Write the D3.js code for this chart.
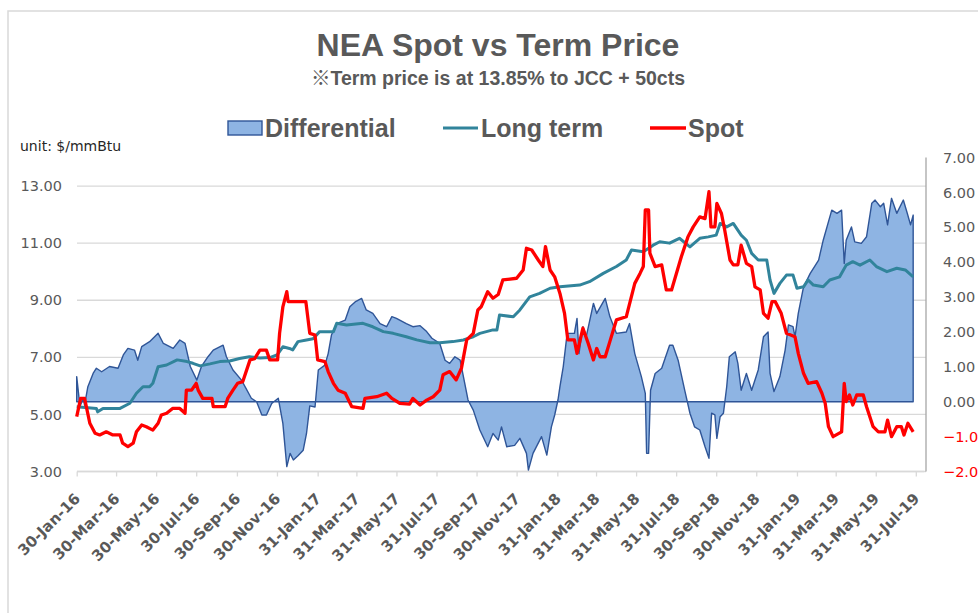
<!DOCTYPE html>
<html lang="en">
<head>
	<title>NEA Spot vs Term Price</title>
	<meta charset="utf-8">
	<style>
		body { margin: 0; background: #fff; }
		#chart text { fill: #595959; }
		.title { font-family: "Liberation Sans", Arial, "Noto Sans CJK JP", sans-serif; font-weight: bold; }
		.axis text { font-family: "DejaVu Sans", Verdana, sans-serif; }
	</style>
</head>
<body>
	<svg id="chart" width="978" height="613"></svg>

	<script src="https://d3js.org/d3.v7.min.js"></script>
	<script>
		"use strict";

		var tickDates = ["2016-01-30","2016-03-30","2016-05-30","2016-07-30","2016-09-30","2016-11-30",
			"2017-01-31","2017-03-31","2017-05-31","2017-07-31","2017-09-30","2017-11-30",
			"2018-01-31","2018-03-31","2018-05-31","2018-07-31","2018-09-30","2018-11-30",
			"2019-01-31","2019-03-31","2019-05-31","2019-07-31"];
		var leftTicks = [3, 5, 7, 9, 11, 13];
		var rightTicks = [-2, -1, 0, 1, 2, 3, 4, 5, 6, 7];

		// Long term ($/mmBtu, left axis)
		var ltDates = ["2016-01-30","2016-02-29","2016-03-02","2016-03-10","2016-04-05","2016-04-20","2016-04-30",
			"2016-05-10","2016-05-20","2016-05-25","2016-06-02","2016-06-15","2016-07-01","2016-07-16","2016-07-25",
			"2016-08-05","2016-08-20","2016-09-04","2016-09-19","2016-10-04","2016-10-19","2016-11-04","2016-11-19",
			"2016-11-30","2016-12-09","2016-12-19","2016-12-24","2017-01-01","2017-01-14","2017-01-24","2017-02-03",
			"2017-02-24","2017-03-01","2017-03-16","2017-04-10","2017-04-25","2017-05-11","2017-05-26","2017-06-15",
			"2017-07-01","2017-07-21","2017-08-05","2017-08-25","2017-09-10","2017-09-25","2017-10-05","2017-10-25",
			"2017-10-31","2017-11-04","2017-11-25","2017-12-05","2017-12-20","2018-01-04","2018-01-20","2018-02-04",
			"2018-03-06","2018-03-21","2018-04-11","2018-05-01","2018-05-16","2018-05-24","2018-06-11","2018-06-26",
			"2018-07-06","2018-07-21","2018-08-05","2018-08-21","2018-09-05","2018-09-18","2018-09-30","2018-10-06",
			"2018-10-16","2018-10-26","2018-11-07","2018-11-15","2018-11-23","2018-12-03","2018-12-16","2018-12-21",
			"2018-12-27","2019-01-05","2019-01-15","2019-01-25","2019-01-31","2019-02-10","2019-02-17","2019-02-25",
			"2019-03-12","2019-03-22","2019-04-06","2019-04-16","2019-04-26","2019-05-07","2019-05-22","2019-06-01",
			"2019-06-17","2019-07-02","2019-07-15","2019-07-27"];
		var ltValues = [5.27,5.21,5.09,5.21,5.21,5.39,5.74,
			5.97,5.97,6.09,6.67,6.73,6.91,6.85,6.79,
			6.70,6.77,6.85,6.87,6.96,7.02,6.98,6.99,
			7.08,7.37,7.31,7.26,7.55,7.61,7.65,7.90,
			7.90,8.19,8.13,8.19,8.07,7.90,7.84,7.72,
			7.61,7.51,7.51,7.55,7.61,7.72,7.84,7.96,
			7.96,8.48,8.42,8.66,9.12,9.24,9.42,9.47,
			9.53,9.65,9.94,10.18,10.41,10.76,10.70,10.93,
			11.05,11.00,11.17,10.87,11.17,11.22,11.28,11.69,
			11.57,11.69,11.28,11.10,10.64,10.41,10.41,9.71,
			9.24,9.59,9.88,9.88,9.42,9.47,9.71,9.53,
			9.47,9.71,9.82,10.23,10.35,10.23,10.41,10.18,
			10.00,10.12,10.06,9.82];

		// Spot ($/mmBtu, left axis)
		var spotDates = ["2016-01-30","2016-02-05","2016-02-11","2016-02-19","2016-02-27","2016-03-05","2016-03-15",
			"2016-03-25","2016-04-05","2016-04-09","2016-04-17","2016-04-25","2016-04-30","2016-05-08","2016-05-15",
			"2016-05-25","2016-06-02","2016-06-07","2016-06-15","2016-06-24","2016-07-05","2016-07-13","2016-07-15",
			"2016-07-23","2016-07-30","2016-08-02","2016-08-09","2016-08-23","2016-08-25","2016-09-12","2016-09-16",
			"2016-09-24","2016-10-01","2016-10-09","2016-10-20","2016-10-27","2016-11-04","2016-11-14","2016-11-19",
			"2016-12-01","2016-12-04","2016-12-09","2016-12-15","2016-12-17","2017-01-13","2017-01-19","2017-01-27",
			"2017-01-31","2017-02-11","2017-02-16","2017-02-24","2017-03-03","2017-03-14","2017-03-24","2017-04-10",
			"2017-04-13","2017-05-01","2017-05-16","2017-05-24","2017-06-05","2017-06-20","2017-06-25","2017-07-06",
			"2017-07-16","2017-07-26","2017-08-05","2017-08-10","2017-08-20","2017-08-30","2017-09-07","2017-09-15",
			"2017-09-25","2017-10-02","2017-10-07","2017-10-17","2017-10-25","2017-11-02","2017-11-09","2017-11-30",
			"2017-12-10","2017-12-15","2017-12-23","2018-01-02","2018-01-09","2018-01-13","2018-01-20","2018-01-27",
			"2018-02-04","2018-02-11","2018-02-16","2018-02-26","2018-03-02","2018-03-11","2018-03-19","2018-03-27",
			"2018-04-01","2018-04-06","2018-04-14","2018-04-21","2018-05-01","2018-05-16","2018-05-29","2018-06-06",
			"2018-06-11","2018-06-14","2018-06-19","2018-06-21","2018-06-29","2018-07-09","2018-07-16","2018-07-24",
			"2018-08-08","2018-08-18","2018-08-26","2018-09-05","2018-09-13","2018-09-19","2018-09-22","2018-09-28",
			"2018-10-01","2018-10-08","2018-10-13","2018-10-21","2018-10-26","2018-11-02","2018-11-07","2018-11-15",
			"2018-11-23","2018-11-28","2018-12-06","2018-12-11","2018-12-18","2018-12-24","2018-12-29","2019-01-07",
			"2019-01-15","2019-01-28","2019-02-02","2019-02-10","2019-02-17","2019-03-02","2019-03-10","2019-03-15",
			"2019-03-20","2019-03-27","2019-04-09","2019-04-13","2019-04-16","2019-04-21","2019-04-26","2019-05-02",
			"2019-05-12","2019-05-17","2019-05-27","2019-06-04","2019-06-14","2019-06-18","2019-06-24","2019-07-02",
			"2019-07-09","2019-07-13","2019-07-19","2019-07-27"];
		var spotValues = [4.92,5.56,5.56,4.69,4.34,4.28,4.39,
			4.28,4.28,3.99,3.87,3.99,4.39,4.63,4.57,
			4.45,4.69,4.98,5.04,5.21,5.21,5.04,5.85,
			5.85,6.09,5.85,5.56,5.56,5.27,5.27,5.56,
			5.85,6.09,6.15,6.91,6.95,7.25,7.25,6.91,
			6.91,7.84,8.77,9.30,8.95,8.95,7.84,7.78,
			6.91,6.85,6.50,6.09,5.85,5.74,5.27,5.21,
			5.56,5.62,5.74,5.56,5.39,5.36,5.56,5.33,
			5.50,5.62,5.85,6.39,6.50,6.21,6.62,7.61,
			7.84,8.66,8.77,9.30,9.07,9.20,9.71,9.77,
			10.06,10.82,10.76,10.41,10.18,10.88,10.06,9.82,
			9.24,8.54,7.61,7.61,7.14,8.02,7.49,6.91,
			7.31,7.02,7.02,7.55,8.31,8.42,9.59,9.94,
			10.18,12.16,12.16,10.65,10.18,10.24,9.36,9.36,
			10.53,11.22,11.57,11.92,11.86,12.80,11.57,11.57,
			12.39,12.04,11.45,10.41,10.24,10.24,10.93,10.29,
			10.18,9.47,9.36,8.54,8.37,8.95,8.95,8.54,
			7.84,7.72,7.14,6.44,6.09,6.15,5.74,5.39,
			4.57,4.22,4.39,6.09,5.45,5.68,5.33,5.68,
			5.68,5.27,4.57,4.39,4.39,4.80,4.22,4.57,
			4.57,4.28,4.69,4.39];

		// Differential ($/mmBtu, right axis)
		var diffDates = ["2016-01-30","2016-02-04","2016-02-09","2016-02-11","2016-02-16","2016-02-24","2016-02-29",
			"2016-03-08","2016-03-20","2016-04-02","2016-04-10","2016-04-17","2016-04-27","2016-05-02","2016-05-08",
			"2016-05-20","2016-06-02","2016-06-10","2016-06-25","2016-07-05","2016-07-13","2016-07-21","2016-07-31",
			"2016-08-07","2016-08-17","2016-08-25","2016-09-09","2016-09-14","2016-09-24","2016-10-07","2016-10-22",
			"2016-10-30","2016-11-07","2016-11-14","2016-11-22","2016-12-02","2016-12-09","2016-12-15","2016-12-20",
			"2016-12-25","2017-01-01","2017-01-09","2017-01-14","2017-01-19","2017-01-27","2017-02-01","2017-02-11",
			"2017-02-16","2017-02-21","2017-03-01","2017-03-14","2017-03-21","2017-03-29","2017-04-08","2017-04-15",
			"2017-04-25","2017-05-06","2017-05-16","2017-05-24","2017-05-31","2017-06-15","2017-06-25","2017-07-06",
			"2017-07-16","2017-07-24","2017-08-05","2017-08-13","2017-08-20","2017-08-28","2017-09-05","2017-09-17",
			"2017-09-25","2017-10-05","2017-10-17","2017-10-25","2017-11-02","2017-11-07","2017-11-15","2017-11-27",
			"2017-12-05","2017-12-15","2017-12-18","2017-12-25","2018-01-07","2018-01-15","2018-01-22","2018-01-27",
			"2018-02-01","2018-02-04","2018-02-09","2018-02-15","2018-02-26","2018-03-02","2018-03-05","2018-03-11",
			"2018-03-16","2018-03-27","2018-04-01","2018-04-14","2018-04-21","2018-05-01","2018-05-16","2018-05-21",
			"2018-05-29","2018-06-08","2018-06-14","2018-06-16","2018-06-19","2018-06-22","2018-06-29","2018-07-09",
			"2018-07-21","2018-07-26","2018-08-03","2018-08-13","2018-08-21","2018-08-28","2018-09-05","2018-09-13",
			"2018-09-19","2018-09-23","2018-09-28","2018-10-01","2018-10-06","2018-10-11","2018-10-16","2018-10-20",
			"2018-10-29","2018-11-02","2018-11-07","2018-11-15","2018-11-23","2018-12-03","2018-12-11","2018-12-18",
			"2018-12-21","2018-12-27","2019-01-05","2019-01-13","2019-01-18","2019-01-25","2019-01-28","2019-02-02",
			"2019-02-10","2019-02-20","2019-03-05","2019-03-12","2019-03-25","2019-04-02","2019-04-09","2019-04-13",
			"2019-04-16","2019-04-24","2019-04-29","2019-05-09","2019-05-17","2019-05-25","2019-05-30","2019-06-07",
			"2019-06-12","2019-06-18","2019-06-24","2019-07-02","2019-07-12","2019-07-18","2019-07-23","2019-07-27"];
		var diffValues = [0.72,-0.14,0.10,-0.10,0.43,0.81,0.96,
			0.86,1.01,0.96,1.34,1.53,1.48,1.19,1.58,
			1.72,1.96,1.67,1.53,1.77,1.67,1.01,0.62,
			1.01,1.29,1.48,1.62,1.29,0.91,0.62,0.10,
			0.00,-0.38,-0.38,-0.05,0.10,-0.62,-1.86,-1.48,
			-1.67,-1.55,-1.39,-0.91,-0.12,-0.15,0.91,1.05,
			1.38,1.91,2.24,2.34,2.72,2.86,2.96,2.63,
			2.53,2.24,2.15,2.44,2.39,2.24,2.15,2.18,
			2.01,1.82,1.67,1.19,1.10,1.29,1.19,0.05,
			-0.24,-0.81,-1.29,-0.91,-1.10,-0.72,-1.29,-1.25,
			-1.05,-1.48,-1.96,-1.48,-1.00,-1.53,-0.72,-0.38,
			0.05,0.43,1.00,1.96,1.96,2.39,1.38,2.15,
			1.86,2.82,2.53,2.96,2.44,1.96,2.00,2.24,
			1.38,0.72,0.24,-1.48,-1.48,0.33,0.81,0.96,
			1.62,1.62,1.19,0.33,-0.33,-0.72,-0.81,-1.29,
			-1.62,-0.33,-0.38,-1.05,-0.43,-0.33,0.43,1.29,
			1.43,1.10,0.33,0.81,0.33,0.91,1.86,2.00,
			0.81,0.29,0.72,1.48,2.20,2.15,1.86,2.53,
			3.29,3.67,4.06,4.63,5.49,5.40,5.49,3.96,
			4.63,5.01,4.58,4.54,4.73,5.69,5.78,5.59,
			5.69,5.07,5.83,5.40,5.78,5.40,5.07,5.35];

		var parse = d3.timeParse("%Y-%m-%d");
		function toPoints(dates, values) {
			return dates.map(function(s, i){ return {date: parse(s), v: values[i]}; });
		}
		var ltData = toPoints(ltDates, ltValues);
		var spotData = toPoints(spotDates, spotValues);
		var diffData = toPoints(diffDates, diffValues);

		var svg = d3.select("#chart");

		var x = d3.scaleTime()
			.domain([parse("2016-01-30"), parse("2019-07-31")])
			.range([76.7, 915.8]);
		var yL = d3.scaleLinear().domain([3, 14]).range([471.5, 157.5]);
		var yR = d3.scaleLinear().domain([-2, 7]).range([471.5, 157.5]);
		var plotLeft = 77, plotRight = 926;

		// chart area border
		svg.append("rect")
			.attr("x", 8).attr("y", 11)
			.attr("width", 1000).attr("height", 700)
			.attr("fill", "none")
			.attr("stroke", "#d9d9d9")
			.attr("stroke-width", 1.5);

		// gridlines
		svg.append("g")
			.selectAll("line")
			.data(leftTicks)
			.enter()
			.append("line")
			.attr("x1", plotLeft)
			.attr("x2", plotRight)
			.attr("y1", function(d){ return yL(d); })
			.attr("y2", function(d){ return yL(d); })
			.attr("stroke", "#d9d9d9")
			.attr("stroke-width", 1.3);

		// right axis line
		svg.append("line")
			.attr("x1", plotRight).attr("x2", plotRight)
			.attr("y1", yR(7)).attr("y2", yR(-2))
			.attr("stroke", "#a6a6a6")
			.attr("stroke-width", 1.3);

		// x axis
		var xAxis = svg.append("g")
			.attr("class", "axis")
			.attr("transform", "translate(0," + yL(3) + ")")
			.call(d3.axisBottom(x)
				.tickValues(tickDates.map(parse))
				.tickSize(5)
				.tickFormat(d3.timeFormat("%d-%b-%y")));
		xAxis.select(".domain")
			.attr("d", "M" + plotLeft + ",0H" + (plotRight - 2))
			.attr("stroke", "#d9d9d9")
			.attr("stroke-width", 1.3);
		xAxis.selectAll(".tick line").attr("stroke", "#d9d9d9").attr("stroke-width", 1.3);
		xAxis.selectAll(".tick text")
			.attr("x", 0).attr("y", 0).attr("dy", 0)
			.attr("text-anchor", "end")
			.attr("transform", "translate(4,28) rotate(-45)")
			.style("font-size", "15px")
			.style("font-weight", "bold");

		// left axis
		var leftAxis = svg.append("g")
			.attr("class", "axis")
			.attr("transform", "translate(62,0)")
			.call(d3.axisLeft(yL).tickValues(leftTicks).tickSize(0).tickPadding(0).tickFormat(d3.format(".2f")));
		leftAxis.select(".domain").remove();
		leftAxis.selectAll("text").style("font-size", "14.5px");

		// right axis
		var rightAxis = svg.append("g")
			.attr("class", "axis")
			.attr("transform", "translate(943,0)")
			.call(d3.axisRight(yR).tickValues(rightTicks).tickSize(0).tickPadding(0).tickFormat(d3.format(".2f")));
		rightAxis.select(".domain").remove();
		rightAxis.selectAll("text")
			.style("font-size", "14.5px")
			.style("fill", function(d){ return d < 0 ? "#ff0000" : "#595959"; });

		// differential area
		var area = d3.area()
			.x(function(d){ return x(d.date); })
			.y0(yR(0))
			.y1(function(d){ return yR(d.v); });
		svg.append("path")
			.datum(diffData)
			.attr("d", area)
			.attr("fill", "#8eb4e3")
			.attr("stroke", "#2f5597")
			.attr("stroke-width", 1.4)
			.attr("stroke-linejoin", "round");

		var lineL = d3.line()
			.x(function(d){ return x(d.date); })
			.y(function(d){ return yL(d.v); });

		svg.append("path")
			.datum(ltData)
			.attr("d", lineL)
			.attr("fill", "none")
			.attr("stroke", "#31849b")
			.attr("stroke-width", 3)
			.attr("stroke-linejoin", "round");

		svg.append("path")
			.datum(spotData)
			.attr("d", lineL)
			.attr("fill", "none")
			.attr("stroke", "#ff0000")
			.attr("stroke-width", 3.3)
			.attr("stroke-linejoin", "round");

		// titles
		svg.append("text")
			.attr("class", "title")
			.attr("x", 498).attr("y", 56)
			.attr("text-anchor", "middle")
			.style("font-size", "32px")
			.text("NEA Spot vs Term Price");
		svg.append("text")
			.attr("class", "title")
			.attr("x", 498).attr("y", 85)
			.attr("text-anchor", "middle")
			.style("font-size", "19.5px")
			.text("※Term price is at 13.85% to JCC + 50cts");
		svg.append("text")
			.attr("x", 20).attr("y", 151)
			.style("font-family", "'DejaVu Sans', Verdana, sans-serif")
			.style("font-size", "14px")
			.style("fill", "#262626")
			.text("unit: $/mmBtu");

		// legend
		var legend = svg.append("g");
		legend.append("rect")
			.attr("x", 228).attr("y", 121).attr("width", 34).attr("height", 14)
			.attr("fill", "#8eb4e3").attr("stroke", "#2f5597").attr("stroke-width", 1.4);
		legend.append("line")
			.attr("x1", 443).attr("x2", 478).attr("y1", 128).attr("y2", 128)
			.attr("stroke", "#31849b").attr("stroke-width", 3);
		legend.append("line")
			.attr("x1", 650).attr("x2", 686).attr("y1", 128).attr("y2", 128)
			.attr("stroke", "#ff0000").attr("stroke-width", 3.3);
		var legendText = [["Differential", 265], ["Long term", 481], ["Spot", 688]];
		legend.selectAll("text.lg")
			.data(legendText)
			.enter()
			.append("text")
			.attr("class", "title lg")
			.attr("x", function(d){ return d[1]; })
			.attr("y", 137)
			.style("font-size", "25px")
			.text(function(d){ return d[0]; });
	</script>
</body>
</html>
